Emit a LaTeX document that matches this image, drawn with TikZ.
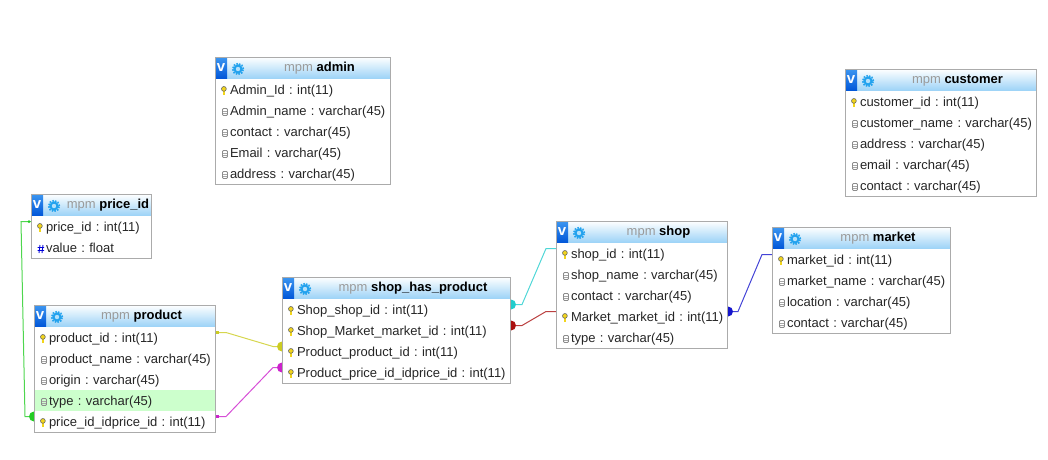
\documentclass[tikz,border=0pt]{standalone}
\usepackage{fontspec}
\setmainfont{Liberation Sans}
\usetikzlibrary{positioning,backgrounds}

\definecolor{framegray}{HTML}{ABABAB}
\definecolor{mpmgray}{HTML}{9A9A9A}
\definecolor{headmid}{HTML}{B4E0FB}
\definecolor{headlow}{HTML}{9AD2F7}
\definecolor{badgetop}{HTML}{3C96F0}
\definecolor{badgelow}{HTML}{0055D8}
\definecolor{gearblue}{HTML}{22A2EE}
\definecolor{keygold}{HTML}{F2D51C}
\definecolor{rowgreen}{HTML}{CCFFCC}
\definecolor{fkgreen}{HTML}{22CC22}
\definecolor{fkyellow}{HTML}{CCCC22}
\definecolor{fkmagenta}{HTML}{CC22CC}
\definecolor{fkcyan}{HTML}{22CCCC}
\definecolor{fkred}{HTML}{AA1111}
\definecolor{fkblue}{HTML}{1515CC}

\tikzset{
  headbox/.style={anchor=north west, inner sep=0pt, outer sep=0pt, minimum width=#1,
    minimum height=22pt, top color=white, middle color=headmid, bottom color=headlow,
    font=\fontsize{13}{13}\selectfont, text height=10pt, text depth=3pt},
  vbadge/.style={anchor=north west, inner sep=0pt, outer sep=0pt, minimum width=12pt,
    minimum height=22pt, top color=badgetop, bottom color=badgelow, text=white,
    font=\fontsize{15}{15}\selectfont\bfseries},
  rowbox/.style={inner sep=0pt, outer sep=0pt, minimum height=21pt, fill=white, text width=#1,
    align=left, font=\fontsize{13}{14}\selectfont\frenchspacing, text=black!85,
    text height=11.5pt, text depth=1.5pt, execute at begin node={\hspace*{15pt}}},
  keyrow/.style={rowbox=#1, path picture={
    \fill[black!55] ([xshift=7.6pt,yshift=1pt]path picture bounding box.west) rectangle ++(2.6,6.6);
    \fill[keygold] ([xshift=8.3pt,yshift=1pt]path picture bounding box.west) rectangle ++(1.2,6);
    \filldraw[draw=black!60, fill=keygold, line width=.6pt]
      ([xshift=8.9pt,yshift=.6pt]path picture bounding box.west) circle (2.4);}},
  colrow/.style={rowbox=#1, path picture={
    \draw[black!45, line width=.8pt, rounded corners=1pt]
      ([xshift=7.5pt,yshift=2pt]path picture bounding box.west) rectangle ++(5,7);
    \draw[black!35, line width=.6pt]
      ([xshift=8pt,yshift=-.3pt]path picture bounding box.west) -- ++(4,0)
      ([xshift=8pt,yshift=-2.7pt]path picture bounding box.west) -- ++(4,0);}},
  hashrow/.style={rowbox=#1, path picture={
    \draw[blue!85!black, line width=.9pt]
      ([xshift=9pt,yshift=2.5pt]path picture bounding box.west) -- ++(-1,8)
      ([xshift=12pt,yshift=2.5pt]path picture bounding box.west) -- ++(-1,8)
      ([xshift=6.5pt,yshift=0pt]path picture bounding box.west) -- ++(6.5,0)
      ([xshift=6.5pt,yshift=-3pt]path picture bounding box.west) -- ++(6.5,0);}},
  tableframe/.style={draw=framegray, line width=1pt},
  fkline/.style={line width=1pt, opacity=.8}
}

% kopf einer tabelle: name, ecke, breite, titel
\newcommand{\tablehead}[4]{
  \node[headbox=#3] (#1) at (#2) {\hspace*{34pt}{\color{mpmgray}mpm} \textbf{#4}};
  \node[vbadge] (#1v) at (#1.north west) {v};
  \fill[gearblue] ([xshift=23pt,yshift=-12pt]#1.north west) circle (4.6pt);
  \draw[gearblue, line width=1.6pt, dash pattern=on 1.6pt off 1.2pt]
    ([xshift=23pt,yshift=-12pt]#1.north west) circle (5.4pt);
  \fill[headmid] ([xshift=23pt,yshift=-12pt]#1.north west) circle (2.2pt);
}

\begin{document}
\begin{tikzpicture}[x=1pt,y=-1pt]
  \useasboundingbox (0,0) rectangle (1048,459);

  % admin
  \tablehead{admin}{215,57}{175pt}{admin}
  \node[keyrow=175pt, below=0pt of admin] (adminid) {Admin\_Id : int(11)};
  \node[colrow=175pt, below=0pt of adminid] (adminname) {Admin\_name : varchar(45)};
  \node[colrow=175pt, below=0pt of adminname] (admincontact) {contact : varchar(45)};
  \node[colrow=175pt, below=0pt of admincontact] (adminemail) {Email : varchar(45)};
  \node[colrow=175pt, below=0pt of adminemail] (adminaddress) {address : varchar(45)};
  \draw[tableframe] (admin.north west) rectangle (adminaddress.south east);

  % customer
  \tablehead{customer}{845,69}{191pt}{customer}
  \node[keyrow=191pt, below=0pt of customer] (custid) {customer\_id : int(11)};
  \node[colrow=191pt, below=0pt of custid] (custname) {customer\_name : varchar(45)};
  \node[colrow=191pt, below=0pt of custname] (custaddress) {address : varchar(45)};
  \node[colrow=191pt, below=0pt of custaddress] (custemail) {email : varchar(45)};
  \node[colrow=191pt, below=0pt of custemail] (custcontact) {contact : varchar(45)};
  \draw[tableframe] (customer.north west) rectangle (custcontact.south east);

  % price_id
  \tablehead{price}{31,194}{120pt}{price\_id}
  \node[keyrow=120pt, below=0pt of price] (priceid) {price\_id : int(11)};
  \node[hashrow=120pt, below=0pt of priceid] (pricevalue) {value : float};
  \draw[tableframe] (price.north west) rectangle (pricevalue.south east);

  % product
  \tablehead{product}{34,305}{181pt}{product}
  \node[keyrow=181pt, below=0pt of product] (prodid) {product\_id : int(11)};
  \node[colrow=181pt, below=0pt of prodid] (prodname) {product\_name : varchar(45)};
  \node[colrow=181pt, below=0pt of prodname] (prodorigin) {origin : varchar(45)};
  \node[colrow=181pt, fill=rowgreen, below=0pt of prodorigin] (prodtype) {type : varchar(45)};
  \node[keyrow=181pt, below=0pt of prodtype] (prodprice) {price\_id\_idprice\_id : int(11)};
  \draw[tableframe] (product.north west) rectangle (prodprice.south east);

  % shop_has_product
  \tablehead{link}{282,277}{228pt}{shop\_has\_product}
  \node[keyrow=228pt, below=0pt of link] (linkshop) {Shop\_shop\_id : int(11)};
  \node[keyrow=228pt, below=0pt of linkshop] (linkmarket) {Shop\_Market\_market\_id : int(11)};
  \node[keyrow=228pt, below=0pt of linkmarket] (linkprod) {Product\_product\_id : int(11)};
  \node[keyrow=228pt, below=0pt of linkprod] (linkprice) {Product\_price\_id\_idprice\_id : int(11)};
  \draw[tableframe] (link.north west) rectangle (linkprice.south east);

  % shop
  \tablehead{shop}{556,221}{171pt}{shop}
  \node[keyrow=171pt, below=0pt of shop] (shopid) {shop\_id : int(11)};
  \node[colrow=171pt, below=0pt of shopid] (shopname) {shop\_name : varchar(45)};
  \node[colrow=171pt, below=0pt of shopname] (shopcontact) {contact : varchar(45)};
  \node[keyrow=171pt, below=0pt of shopcontact] (shopmarket) {Market\_market\_id : int(11)};
  \node[colrow=171pt, below=0pt of shopmarket] (shoptype) {type : varchar(45)};
  \draw[tableframe] (shop.north west) rectangle (shoptype.south east);

  % market
  \tablehead{market}{772,227}{178pt}{market}
  \node[keyrow=178pt, below=0pt of market] (marketid) {market\_id : int(11)};
  \node[colrow=178pt, below=0pt of marketid] (marketname) {market\_name : varchar(45)};
  \node[colrow=178pt, below=0pt of marketname] (marketlocation) {location : varchar(45)};
  \node[colrow=178pt, below=0pt of marketlocation] (marketcontact) {contact : varchar(45)};
  \draw[tableframe] (market.north west) rectangle (marketcontact.south east);

  % verbindungen, hinter den tabellen
  \begin{scope}[on background layer]
    \draw[fkline, fkgreen] ([yshift=5pt]priceid.west) -- ++(-10,0)
      -- ([xshift=-9pt,yshift=5pt]prodprice.west) -- ([yshift=5pt]prodprice.west);
    \fill[fkgreen] ([yshift=5pt]prodprice.west) circle (5pt);
    \fill[fkgreen] ([xshift=-2pt,yshift=5pt]priceid.west) circle (1.5pt);

    \draw[fkline, fkyellow] ([yshift=5pt]prodid.east) -- ++(11,0)
      -- ([xshift=-9pt,yshift=5pt]linkprod.west) -- ([yshift=5pt]linkprod.west);
    \fill[fkyellow] ([xshift=4pt,yshift=3.5pt]prodid.east) rectangle ([yshift=6.5pt]prodid.east);
    \fill[fkyellow] ([yshift=5pt]linkprod.west) circle (5pt);

    \draw[fkline, fkmagenta] ([yshift=5pt]prodprice.east) -- ++(11,0)
      -- ([xshift=-9pt,yshift=5pt]linkprice.west) -- ([yshift=5pt]linkprice.west);
    \fill[fkmagenta] ([xshift=4pt,yshift=3.5pt]prodprice.east) rectangle ([yshift=6.5pt]prodprice.east);
    \fill[fkmagenta] ([yshift=5pt]linkprice.west) circle (5pt);

    \draw[fkline, fkcyan] ([yshift=5pt]linkshop.east) -- ++(12,0)
      -- ([xshift=-10pt,yshift=5pt]shopid.west) -- ([yshift=5pt]shopid.west);
    \fill[fkcyan] ([xshift=1pt,yshift=5pt]linkshop.east) circle (5pt);

    \draw[fkline, fkred] ([yshift=5pt]linkmarket.east) -- ++(12,0)
      -- ([xshift=-10pt,yshift=5pt]shopmarket.west) -- ([yshift=5pt]shopmarket.west);
    \fill[fkred] ([xshift=1pt,yshift=5pt]linkmarket.east) circle (5pt);

    \draw[fkline, fkblue] ([yshift=5pt]shopmarket.east) -- ++(11,0)
      -- ([xshift=-10pt,yshift=5pt]marketid.west) -- ([yshift=5pt]marketid.west);
    \fill[fkblue] ([xshift=1pt,yshift=5pt]shopmarket.east) circle (5pt);
  \end{scope}
\end{tikzpicture}
\end{document}
